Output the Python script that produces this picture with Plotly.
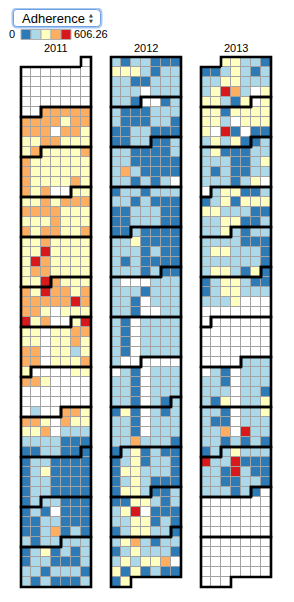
import datetime as dt
import plotly.graph_objects as go

# ---------------- data ----------------
YEARS = [2011, 2012, 2013]
METRIC_LABEL = "Adherence"
VALUE_MIN = 0
VALUE_MAX = 606.26
QUANT_COLORS = ["#2c7bb6", "#abd9e9", "#ffffbf", "#fdae61", "#d7191c"]
# estimated daily value for each colour class ("0" = no data)
LEVEL_ESTIMATE = {"0": None, "1": 60.6, "2": 181.9, "3": 303.1, "4": 424.4, "5": 545.6}

# daily classes in date order, grouped by calendar week (Sun..Sat)
DAYS_2011 = [
    "0", "0000000", "0000000", "0000000", "0000000", "0044444", "4444344",
    "4440443", "3344333", "3433334", "4333333", "4333333", "4333343", "4340033",
    "3343444", "4444333", "3334333", "4344334", "3343333", "3353333", "3543333",
    "3443333", "3354333", "4354434", "4444454", "4430333", "5340035", "3303344",
    "3303343", "4403323", "4403334", "3000033", "4430000", "0000000", "0000000",
    "0200443", "4430433", "3340222", "2222111", "1122111", "1221111", "1231111",
    "1221111", "1221111", "1222111", "1210111", "1122111", "1124121", "2122222",
    "1231212", "1221112", "2212221", "2121112",
]
DAYS_2012 = [
    "2122111", "3332122", "2211222", "2220222", "2210012", "2111222", "2111221",
    "1122111", "1122112", "2211112", "2211111", "2421111", "2212120", "1221222",
    "2212111", "1122211", "1122211", "1121111", "2231111", "2221211", "2121111",
    "2221211", "2000222", "2221222", "2210222", "2210022", "2102222", "2102222",
    "2102222", "2102222", "2000000", "0210222", "2210222", "2210222", "2210212",
    "1310212", "2210222", "2210222", "2242221", "1231211", "1231221", "1332221",
    "1232111", "1332112", "1133212", "2350111", "2233121", "1233221", "2342122",
    "1232221", "2323340", "3131211", "13",
]
DAYS_2013 = [
    "33221", "1123212", "2233222", "2354203", "3321303", "3313333", "3320333",
    "3051011", "2323112", "2311122", "2221123", "2121122", "2221230", "0233112",
    "1231333", "3322211", "2233112", "2232122", "2222111", "2332221", "2222221",
    "2332131", "1233211", "1233222", "2223000", "0000000", "0000000", "0000000",
    "0000000", "0000000", "0000222", "0210222", "2210222", "2220221", "2130223",
    "2210223", "2110222", "2240522", "2212121", "1223222", "5225111", "2215211",
    "2211221", "2221210", "0000000", "0000000", "0000000", "0000000", "0000000",
    "0000000", "0000000", "0000000", "000",
]
DAILY_CLASSES = {2011: DAYS_2011, 2012: DAYS_2012, 2013: DAYS_2013}

# ---------------- layout constants ----------------
BODY = 8                       # default page margin around the plot div
W, H = 294 - BODY, 602 - BODY
CELL = 10                      # px per day cell
YEAR_STEP = 9                  # columns from one year block to the next
N_WEEKS = 53
PAD = 0.5
NCOLS = YEAR_STEP * (len(YEARS) - 1) + 7
GRID_LEFT, GRID_TOP = 21, 57   # window px of first day cell corner
PW = (NCOLS + 2 * PAD) * CELL
PH = (N_WEEKS + 2 * PAD) * CELL
ML = GRID_LEFT - BODY - PAD * CELL
MT = GRID_TOP - BODY - PAD * CELL
MR = W - ML - PW
MB = H - MT - PH
FONT = "Liberation Sans, Arial, Helvetica, sans-serif"
GRID = "#a3a3a3"


def px2paper_x(px):           # window px -> paper
    return (px - BODY - ML) / PW


def px2paper_y(py):
    return 1 - (py - BODY - MT) / PH


def dow(d):      # Sunday = 0
    return (d.weekday() + 1) % 7


def week_of(d):
    jan1 = dt.date(d.year, 1, 1)
    return (d.timetuple().tm_yday - 1 + dow(jan1)) // 7


# ---------------- build grids ----------------
z = [[None] * NCOLS for _ in range(N_WEEKS)]
mask = [[None] * NCOLS for _ in range(N_WEEKS)]
cdata = [[""] * NCOLS for _ in range(N_WEEKS)]
for k, year in enumerate(YEARS):
    codes = "".join(DAILY_CLASSES[year])
    d = dt.date(year, 1, 1)
    n_days = (dt.date(year + 1, 1, 1) - d).days
    assert len(codes) == n_days, (year, len(codes), n_days)
    for i, ch in enumerate(codes):
        day = d + dt.timedelta(days=i)
        r, c = week_of(day), k * YEAR_STEP + dow(day)
        z[r][c] = LEVEL_ESTIMATE[ch]
        mask[r][c] = 1
        cdata[r][c] = day.isoformat()

xs = [i + 0.5 for i in range(NCOLS)]
ys = [r + 0.5 for r in range(N_WEEKS)]

colorscale = []
for i, col in enumerate(QUANT_COLORS):
    colorscale += [[i / len(QUANT_COLORS), col], [(i + 1) / len(QUANT_COLORS), col]]

fig = go.Figure()
# grid-line base (gray), white day cells, then coloured data cells
fig.add_trace(go.Heatmap(x=xs, y=ys, z=mask, colorscale=[[0, GRID], [1, GRID]],
                         showscale=False, hoverinfo="skip"))
fig.add_trace(go.Heatmap(x=xs, y=ys, z=mask, colorscale=[[0, "#ffffff"], [1, "#ffffff"]],
                         showscale=False, xgap=1, ygap=1, customdata=cdata,
                         hovertemplate="%{customdata}: no data<extra></extra>"))
fig.add_trace(go.Heatmap(x=xs, y=ys, z=z, colorscale=colorscale, zmin=VALUE_MIN,
                         zmax=VALUE_MAX, showscale=False, xgap=1, ygap=1,
                         customdata=cdata,
                         hovertemplate="%{customdata}: %{z:.2f}<extra></extra>"))

# month outlines
mx, my = [], []
for k, year in enumerate(YEARS):
    off = k * YEAR_STEP
    for m in range(1, 13):
        t0 = dt.date(year, m, 1)
        t1 = (dt.date(year + (m == 12), m % 12 + 1, 1) - dt.timedelta(days=1))
        d0, w0, d1, w1 = dow(t0), week_of(t0), dow(t1), week_of(t1)
        pts = [(d0, w0 + 1), (d0, w0), (7, w0), (7, w1), (d1 + 1, w1),
               (d1 + 1, w1 + 1), (0, w1 + 1), (0, w0 + 1), (d0, w0 + 1)]
        for px_, py_ in pts:
            mx.append(px_ + off)
            my.append(py_)
        mx.append(None)
        my.append(None)
fig.add_trace(go.Scatter(x=mx, y=my, mode="lines", hoverinfo="skip",
                         line=dict(color="#000000", width=2.6), showlegend=False))

annotations = []
for k, year in enumerate(YEARS):
    annotations.append(dict(x=(k * YEAR_STEP + 3.5 + PAD) / (NCOLS + 2 * PAD),
                            y=px2paper_y(48), xref="paper", yref="paper",
                            text=str(year), showarrow=False, xanchor="center",
                            yanchor="middle", font=dict(size=11, color="#000", family=FONT)))

# colour legend
LEG_X0, LEG_Y0 = 21, 29.5
shapes = []
for i, col in enumerate(QUANT_COLORS):
    shapes.append(dict(type="rect", xref="paper", yref="paper",
                       x0=px2paper_x(LEG_X0 + CELL * i), x1=px2paper_x(LEG_X0 + CELL * (i + 1)),
                       y0=px2paper_y(LEG_Y0 + CELL), y1=px2paper_y(LEG_Y0),
                       fillcolor=col, line=dict(color="#b0b0b0", width=1)))
annotations.append(dict(x=px2paper_x(LEG_X0 - 4), y=px2paper_y(LEG_Y0 + CELL / 2),
                        xref="paper", yref="paper", text=str(VALUE_MIN), showarrow=False,
                        xanchor="right", yanchor="middle",
                        font=dict(size=11, color="#000", family=FONT)))
annotations.append(dict(x=px2paper_x(LEG_X0 + CELL * 5 + 1), y=px2paper_y(LEG_Y0 + CELL / 2),
                        xref="paper", yref="paper", text=f"{VALUE_MAX:.2f}", showarrow=False,
                        xanchor="left", yanchor="middle",
                        font=dict(size=11, color="#000", family=FONT)))

# select box (metric chooser) drawn as a rounded box with label and arrows
SX0, SX1, SY0, SY1, RAD = 13.5, 100.5, 9.5, 26.5, 4


def rounded_path(x0, x1, y0, y1, r):
    P = lambda px, py: f"{px2paper_x(px):.5f},{px2paper_y(py):.5f}"
    return (f"M{P(x0 + r, y0)} L{P(x1 - r, y0)} Q{P(x1, y0)} {P(x1, y0 + r)} "
            f"L{P(x1, y1 - r)} Q{P(x1, y1)} {P(x1 - r, y1)} L{P(x0 + r, y1)} "
            f"Q{P(x0, y1)} {P(x0, y1 - r)} L{P(x0, y0 + r)} Q{P(x0, y0)} {P(x0 + r, y0)} Z")


shapes.append(dict(type="path", xref="paper", yref="paper",
                   path=rounded_path(SX0 - 1, SX1 + 1, SY0 - 1, SY1 + 1, RAD + 1),
                   fillcolor="rgba(0,0,0,0)", line=dict(color="#a9c8f0", width=2)))
shapes.append(dict(type="path", xref="paper", yref="paper",
                   path=rounded_path(SX0, SX1, SY0, SY1, RAD),
                   fillcolor="#ffffff", line=dict(color="#6d9ee0", width=1)))
annotations.append(dict(x=px2paper_x(20), y=px2paper_y((SY0 + SY1) / 2), xref="paper",
                        yref="paper", text=METRIC_LABEL, showarrow=False, xanchor="left",
                        yanchor="middle", font=dict(size=13, color="#000", family=FONT)))
annotations.append(dict(x=px2paper_x(91), y=px2paper_y(15.2), xref="paper", yref="paper",
                        text="▲", showarrow=False, xanchor="center", yanchor="middle",
                        font=dict(size=5, color="#444", family="DejaVu Sans")))
annotations.append(dict(x=px2paper_x(91), y=px2paper_y(20.6), xref="paper", yref="paper",
                        text="▼", showarrow=False, xanchor="center", yanchor="middle",
                        font=dict(size=5, color="#444", family="DejaVu Sans")))

fig.update_layout(
    width=W, height=H,
    margin=dict(l=ML, r=MR, t=MT, b=MB, pad=0, autoexpand=False),
    paper_bgcolor="#ffffff", plot_bgcolor="rgba(0,0,0,0)",
    xaxis=dict(range=[-PAD, NCOLS + PAD], visible=False, fixedrange=True),
    yaxis=dict(range=[N_WEEKS + PAD, -PAD], visible=False, fixedrange=True),
    showlegend=False,
    annotations=annotations,
    shapes=shapes,
)

fig.write_html("out.html")
